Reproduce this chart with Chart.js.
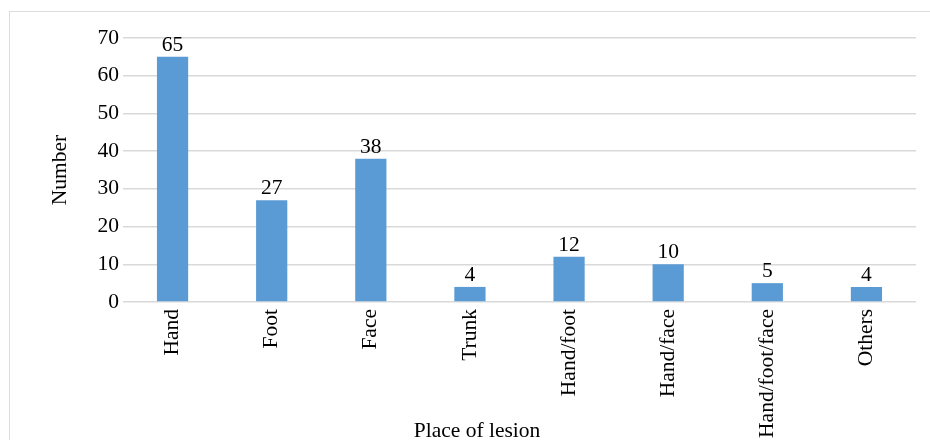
<!DOCTYPE html>
<html>
<head>
<meta charset="utf-8">
<script src="https://cdn.jsdelivr.net/npm/chart.js@4"></script>
<style>
html,body{margin:0;padding:0;overflow:hidden;background:#fff;width:930px;height:440px;}
#frame{position:absolute;left:9px;top:11px;width:1000px;height:1000px;border-top:1.5px solid #dcdcdc;border-left:1.5px solid #dcdcdc;}
#c{position:absolute;left:0;top:0;}
</style>
</head>
<body>
<div id="frame"></div>
<canvas id="c" width="930" height="460"></canvas>
<script>
const categories = ["Hand","Foot","Face","Trunk","Hand/foot","Hand/face","Hand/foot/face","Others"];
const counts = [65,27,38,4,12,10,5,4];
const yTicks = [0,10,20,30,40,50,60,70];
const xTitle = "Place of lesion";
const yTitle = "Number";

const FONT = "'Liberation Serif','Times New Roman',serif";
const FS = 21.5;

const valueLabels = {
  id:'valueLabels',
  afterDatasetsDraw(chart){
    const ctx = chart.ctx;
    const meta = chart.getDatasetMeta(0);
    ctx.save();
    ctx.font = FS + "px " + FONT;
    ctx.fillStyle = "#000";
    ctx.textAlign = "center";
    ctx.textBaseline = "bottom";
    meta.data.forEach((bar,i)=>{
      ctx.fillText(String(counts[i]), bar.x, bar.y - 1);
    });
    // x axis title (offset left of plot centre, as in the reference)
    ctx.textBaseline = "alphabetic";
    ctx.fillText(xTitle, 477, 437);
    ctx.restore();
  }
};

new Chart(document.getElementById('c'), {
  type:'bar',
  data:{
    labels:categories,
    datasets:[{data:counts, backgroundColor:'#5B9BD5', barPercentage:0.315, categoryPercentage:1}]
  },
  options:{
    responsive:false,
    animation:false,
    layout:{padding:{left:0,right:14,top:38,bottom:16}},
    plugins:{legend:{display:false},tooltip:{enabled:false}},
    scales:{
      x:{
        grid:{display:false,drawTicks:false},
        border:{display:false},
        ticks:{color:'#000',font:{family:FONT,size:FS},minRotation:90,maxRotation:90,padding:7,autoSkip:false},
        afterFit(scale){ scale.height = 460 - 16 - 302; }
      },
      y:{
        min:0,max:70,
        afterBuildTicks(scale){ scale.ticks = yTicks.map(v=>({value:v})); },
        grid:{color:'#d9d9d9',lineWidth:1.5,drawTicks:false},
        border:{display:false},
        ticks:{color:'#000',font:{family:FONT,size:FS},padding:4},
        title:{display:true,text:yTitle,color:'#000',font:{family:FONT,size:FS},padding:{top:47,bottom:0}},
        afterFit(scale){ scale.width = 123; }
      }
    }
  },
  plugins:[valueLabels]
});
</script>
</body>
</html>
